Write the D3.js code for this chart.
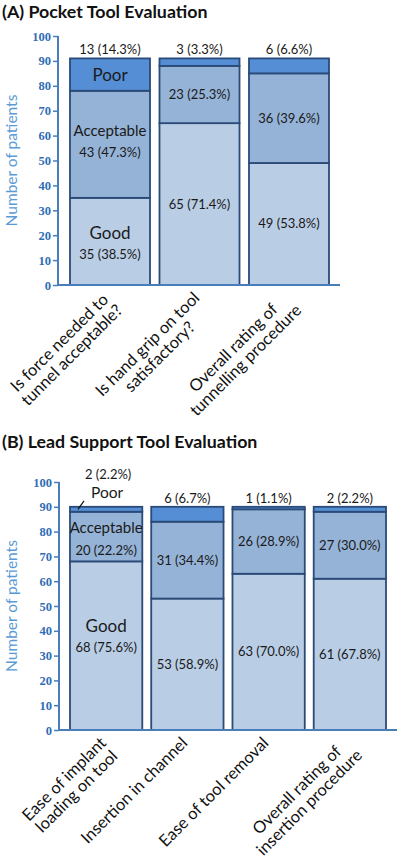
<!DOCTYPE html>
<html><head><meta charset="utf-8">
<script src="https://cdn.jsdelivr.net/npm/d3@7"></script>
<style>
html,body{margin:0;padding:0;background:#fff;}
svg{display:block;}
</style></head>
<body>
<svg id="chart" width="400" height="862"></svg>
<script>
// ---------- data ----------
const seriesNames = ["Good", "Acceptable", "Poor"];

const titleA = "(A)  Pocket Tool Evaluation";
const categoriesA = [
  "Is force needed to\ntunnel acceptable?",
  "Is hand grip on tool\nsatisfactory?",
  "Overall rating of\ntunnelling procedure"
];
const goodA = [35, 65, 49];
const acceptableA = [43, 23, 36];
const poorA = [13, 3, 6];

const titleB = "(B)  Lead Support Tool Evaluation";
const categoriesB = [
  "Ease of implant\nloading on tool",
  "Insertion in channel",
  "Ease of tool removal",
  "Overall rating of\ninsertion procedure"
];
const goodB = [68, 53, 63, 61];
const acceptableB = [20, 31, 26, 27];
const poorB = [2, 6, 1, 2];

const yTicks = [0, 10, 20, 30, 40, 50, 60, 70, 80, 90, 100];
const yLabel = "Number of patients";

// ---------- style ----------
const colors = {Good: "#b9cde5", Acceptable: "#95b3d7", Poor: "#558ed5"};
const barStroke = "#2a4a78";
const axisColor = "#4a7ebb";
const tickColor = "#2f6db5";
const font = "Lato, 'Open Sans', sans-serif";

const svg = d3.select("#chart");

function panel(opts) {
  const {title, titleY, cats, good, acc, poor, yTop, yBottom, axisLeft, axisRight, barL, barR, pad, leader, nameOff} = opts;
  const g = svg.append("g");
  const y = d3.scaleLinear().domain([0, 100]).range([yBottom, yTop]);
  const x = d3.scaleBand().domain(cats).range([barL, barR]).paddingInner(pad).paddingOuter(0);

  g.append("text").attr("x", 2).attr("y", titleY)
    .attr("font-family", font).attr("font-weight", 700).attr("font-size", 17.8)
    .attr("fill", "#111").text(title);

  const rows = cats.map((c, i) => ({cat: c, Good: good[i], Acceptable: acc[i], Poor: poor[i], total: good[i] + acc[i] + poor[i]}));
  const stack = d3.stack().keys(seriesNames)(rows);

  stack.forEach(layer => {
    g.selectAll(null).data(layer).join("rect")
      .attr("x", d => x(d.data.cat))
      .attr("width", x.bandwidth())
      .attr("y", d => y(d[1]))
      .attr("height", d => y(d[0]) - y(d[1]))
      .attr("fill", colors[layer.key])
      .attr("stroke", barStroke).attr("stroke-width", 1.8);
  });

  // axes
  const ax = g.append("g").attr("transform", `translate(${axisLeft},0)`)
    .call(d3.axisLeft(y).tickValues(yTicks).tickSize(5).tickPadding(2).tickFormat(d3.format("d")));
  ax.select(".domain").attr("stroke", axisColor).attr("stroke-width", 2).attr("d", `M0,${yBottom}V${yTop}`);
  ax.selectAll(".tick line").attr("stroke", axisColor).attr("stroke-width", 1.5);
  ax.selectAll(".tick text").attr("fill", tickColor).attr("font-family", "'Liberation Serif', 'DejaVu Serif', serif")
    .attr("font-weight", 700).attr("font-size", 12.5);
  g.append("line").attr("x1", axisLeft).attr("x2", axisRight).attr("y1", yBottom).attr("y2", yBottom)
    .attr("stroke", axisColor).attr("stroke-width", 2);

  g.append("text").attr("transform", `translate(17,${(yTop + yBottom) / 2}) rotate(-90)`)
    .attr("text-anchor", "middle").attr("font-family", font).attr("font-size", 15.5)
    .attr("fill", "#5b9bd5").text(yLabel);

  const fmt = d3.format(".1f");
  const lab = (v, t) => `${v} (${fmt(v / t * 100)}%)`;
  const txt = (xx, yy, s, size) => g.append("text").attr("x", xx).attr("y", yy).attr("text-anchor", "middle")
    .attr("font-family", font).attr("font-size", size).attr("fill", "#1a1a1a").text(s);

  rows.forEach((r, i) => {
    const x0 = x(r.cat);
    const cx = x0 + x.bandwidth() / 2;
    [["Good", 0, r.Good], ["Acceptable", r.Good, r.Good + r.Acceptable]].forEach(([k, a, b]) => {
      const mid = (y(a) + y(b)) / 2;
      const val = lab(r[k], r.total);
      if (i === 0) {
        txt(cx, mid + nameOff[k][0], k, k === "Good" ? 17 : 15);
        txt(cx, mid + nameOff[k][1], val, 13);
      } else {
        txt(cx, mid + 4.5, val, 13);
      }
    });
    const topY = y(r.total);
    const pval = lab(r.Poor, r.total);
    if (i === 0 && !leader) {
      txt(cx, (y(r.Good + r.Acceptable) + topY) / 2 + 6, "Poor", 17);
      txt(cx, topY - 4, pval, 13);
    } else if (i === 0 && leader) {
      txt(cx + 1, topY - 9, "Poor", 15.5);
      txt(cx + 2, topY - 28, pval, 13);
      g.append("line").attr("x1", x0 + 14).attr("y1", topY - 6).attr("x2", x0 + 8).attr("y2", y(r.total - r.Poor / 2))
        .attr("stroke", "#111").attr("stroke-width", 1.2);
    } else {
      txt(cx, topY - 4, pval, 13);
    }

    // category label, rotated -45
    const lines = r.cat.split("\n");
    const lg = g.append("g").attr("transform", `translate(${cx + 1},${yBottom + 14}) rotate(-45)`);
    const ts = lines.map((ln, j) => lg.append("text").attr("y", j * 17.5).attr("text-anchor", "middle")
      .attr("font-family", font).attr("font-size", 16.5).attr("fill", "#111").text(ln));
    const w = d3.max(ts, t => t.node().getComputedTextLength());
    ts.forEach(t => t.attr("x", -w / 2));
  });
}

panel({title: titleA, titleY: 18, cats: categoriesA, good: goodA, acc: acceptableA, poor: poorA,
  yTop: 36, yBottom: 285, axisLeft: 58, axisRight: 340, barL: 70, barR: 329, pad: 0.106, leader: false,
  nameOff: {Acceptable: [-8.5, 12.5], Good: [-2, 17.5]}});
panel({title: titleB, titleY: 448, cats: categoriesB, good: goodB, acc: acceptableB, poor: poorB,
  yTop: 482, yBottom: 730, axisLeft: 59, axisRight: 397, barL: 70, barR: 386, pad: 0.11, leader: true,
  nameOff: {Acceptable: [-4, 18], Good: [-14, 6]}});
</script>
</body></html>
